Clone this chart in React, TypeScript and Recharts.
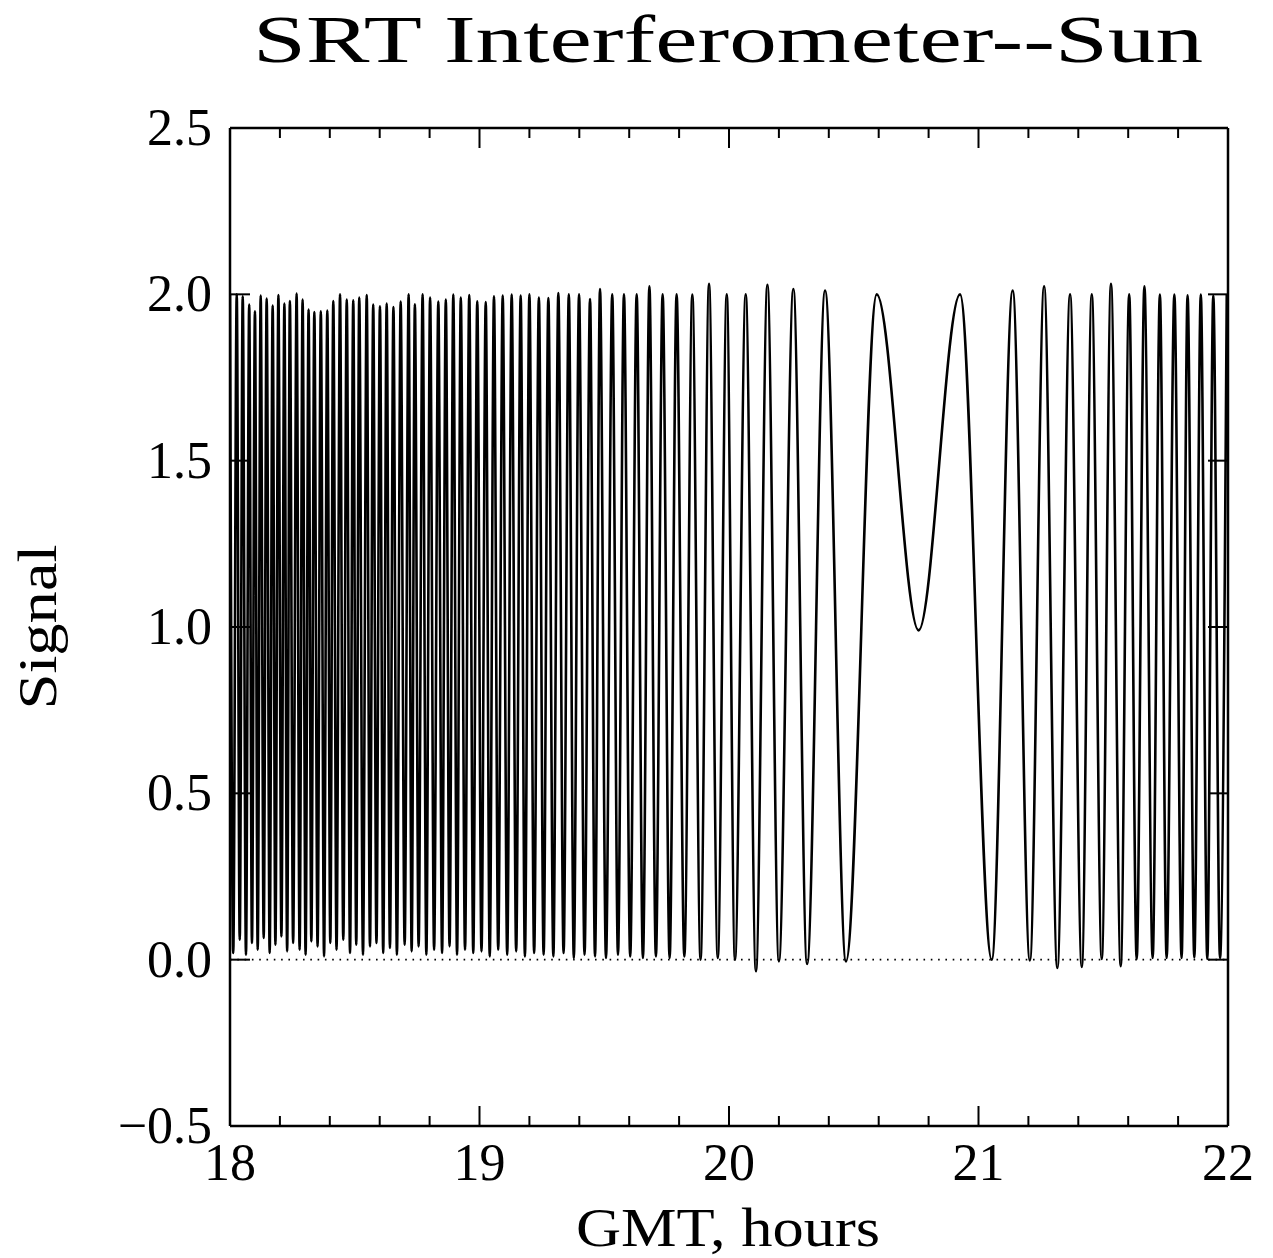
import React from "react";
import { LineChart, Line, XAxis, YAxis, ReferenceLine } from "recharts";

// fringe maxima (GMT hours, signal)
const peakHours = [
  18.0, 18.027, 18.051, 18.077, 18.1, 18.123, 18.147, 18.171, 18.194, 18.218,
  18.24, 18.267, 18.291, 18.315, 18.338, 18.364, 18.39, 18.414, 18.441, 18.468,
  18.494, 18.518, 18.548, 18.574, 18.601, 18.628, 18.655, 18.684, 18.716, 18.741,
  18.772, 18.802, 18.835, 18.865, 18.895, 18.925, 18.959, 18.991, 19.025, 19.058,
  19.093, 19.129, 19.165, 19.2, 19.238, 19.276, 19.316, 19.358, 19.399, 19.443,
  19.483, 19.532, 19.579, 19.63, 19.681, 19.734, 19.79, 19.853, 19.92, 19.991,
  20.067, 20.154, 20.258, 20.385, 20.592, 20.926, 21.137, 21.263, 21.367, 21.454,
  21.531, 21.604, 21.665, 21.727, 21.785, 21.838, 21.891, 21.941, 21.995,
];
const peakSignal = [
  2.0, 2.0, 1.994, 1.969, 1.949, 1.996, 1.987, 1.966, 1.998, 1.972,
  1.98, 2.002, 1.984, 1.954, 1.947, 1.949, 1.951, 1.98, 2.0, 1.984,
  1.982, 1.99, 1.998, 1.969, 1.964, 1.972, 1.962, 1.978, 2.0, 1.97,
  2.0, 1.99, 1.978, 1.984, 1.999, 1.99, 1.998, 1.979, 1.977, 1.994,
  1.996, 1.999, 1.996, 2.0, 1.99, 1.989, 2.004, 2.0, 2.0, 1.986,
  2.016, 2.0, 2.0, 2.0, 2.024, 2.0, 2.0, 1.999, 2.032, 2.0,
  2.0, 2.029, 2.016, 2.011, 2.0, 2.0, 2.011, 2.024, 2.0, 2.0,
  2.032, 2.0, 2.024, 1.999, 1.999, 1.997, 1.999, 1.996, 2.0,
];

// fringe minima
const troughHours = [
  18.013, 18.039, 18.064, 18.088, 18.111, 18.135, 18.159, 18.182, 18.206, 18.229,
  18.253, 18.279, 18.303, 18.326, 18.351, 18.377, 18.402, 18.427, 18.454, 18.481,
  18.506, 18.533, 18.561, 18.587, 18.614, 18.641, 18.669, 18.7, 18.728, 18.756,
  18.787, 18.818, 18.85, 18.88, 18.91, 18.942, 18.975, 19.008, 19.041, 19.075,
  19.111, 19.147, 19.182, 19.219, 19.257, 19.296, 19.337, 19.378, 19.421, 19.463,
  19.507, 19.555, 19.604, 19.655, 19.707, 19.762, 19.821, 19.886, 19.955, 20.024,
  20.108, 20.2, 20.313, 20.469, 20.76, 21.053, 21.206, 21.316, 21.414, 21.494,
  21.57, 21.634, 21.698, 21.754, 21.814, 21.865, 21.917, 21.968,
];
const troughSignal = [
  0.02, 0.06, 0.015, 0.05, 0.03, 0.065, 0.02, 0.045, 0.07, 0.025,
  0.05, 0.03, 0.015, 0.055, 0.04, 0.01, 0.05, 0.03, 0.06, 0.02,
  0.045, 0.015, 0.04, 0.05, 0.02, 0.035, 0.015, 0.045, 0.025, 0.04,
  0.015, 0.03, 0.02, 0.04, 0.015, 0.03, 0.02, 0.025, 0.01, 0.03,
  0.015, 0.025, 0.01, 0.02, 0.015, 0.01, 0.02, 0.005, 0.015, 0.01,
  0.005, 0.015, 0.01, 0.005, 0.01, 0.005, 0.01, 0.0, 0.005, 0.0,
  -0.035, -0.005, -0.013, -0.005, 0.99, 0.0, -0.002, -0.025, -0.022, 0.002,
  -0.02, 0.002, 0.005, 0.005, 0.005, 0.007, 0.002, 0.005,
];

const xTicks = [
  18, 18.2, 18.4, 18.6, 18.8, 19, 19.2, 19.4, 19.6, 19.8, 20,
  20.2, 20.4, 20.6, 20.8, 21, 21.2, 21.4, 21.6, 21.8, 22,
];
const yTicks = [-0.5, 0, 0.5, 1, 1.5, 2, 2.5];

const data = [
  ...peakHours.map((t, i) => ({ t, s: peakSignal[i] })),
  ...troughHours.map((t, i) => ({ t, s: troughSignal[i] })),
].sort((a, b) => a.t - b.t);

const FONT = "'Liberation Serif', 'DejaVu Serif', serif";
const MAJOR = 20;
const MINOR = 10;

const isXMajor = (v: number) => Math.abs(v - Math.round(v)) < 1e-6;

function BottomTick({ x, y, payload }: any) {
  const major = isXMajor(payload.value);
  return (
    <g>
      <line x1={x} y1={y} x2={x} y2={y - (major ? MAJOR : MINOR)} stroke="#000" strokeWidth={2} />
      {major && (
        <text x={x} y={y + 54} textAnchor="middle" fontFamily={FONT} fontSize={52} fill="#000">
          {payload.value}
        </text>
      )}
    </g>
  );
}

function TopTick({ x, y, payload }: any) {
  const major = isXMajor(payload.value);
  return <line x1={x} y1={y} x2={x} y2={y + (major ? MAJOR : MINOR)} stroke="#000" strokeWidth={2} />;
}

function LeftTick({ x, y, payload }: any) {
  const v = payload.value;
  const label = v < 0 ? "\u2212" + Math.abs(v).toFixed(1) : v.toFixed(1);
  return (
    <g>
      <line x1={x} y1={y} x2={x + MAJOR} y2={y} stroke="#000" strokeWidth={2} />
      <text x={x - 18} y={y + 17} textAnchor="end" fontFamily={FONT} fontSize={52} fill="#000">
        {label}
      </text>
    </g>
  );
}

function RightTick({ x, y }: any) {
  return <line x1={x} y1={y} x2={x - MAJOR} y2={y} stroke="#000" strokeWidth={2} />;
}

export default function App() {
  const axisLine = { stroke: "#000", strokeWidth: 2.5 };
  return (
    <div style={{ position: "relative", width: 1257, height: 1250 }}>
      <LineChart width={1257} height={1250} data={data} margin={{ top: 0, right: 0, bottom: 0, left: 0 }}>
        <XAxis
          xAxisId="bottom"
          dataKey="t"
          type="number"
          domain={[18, 22]}
          ticks={xTicks}
          interval={0}
          allowDataOverflow
          height={132}
          tickSize={0}
          tickMargin={0}
          tickLine={false}
          axisLine={axisLine}
          tick={<BottomTick />}
        />
        <XAxis
          xAxisId="top"
          orientation="top"
          dataKey="t"
          type="number"
          domain={[18, 22]}
          ticks={xTicks}
          interval={0}
          allowDataOverflow
          height={120}
          tickSize={0}
          tickMargin={0}
          tickLine={false}
          axisLine={axisLine}
          tick={<TopTick />}
        />
        <YAxis
          yAxisId="left"
          type="number"
          domain={[-0.5, 2.5]}
          ticks={yTicks}
          interval={0}
          allowDataOverflow
          width={222}
          tickSize={0}
          tickMargin={0}
          tickLine={false}
          axisLine={axisLine}
          tick={<LeftTick />}
        />
        <YAxis
          yAxisId="right"
          orientation="right"
          type="number"
          domain={[-0.5, 2.5]}
          ticks={yTicks}
          interval={0}
          allowDataOverflow
          width={37}
          tickSize={0}
          tickMargin={0}
          tickLine={false}
          axisLine={axisLine}
          tick={<RightTick />}
        />
        <ReferenceLine
          xAxisId="bottom"
          yAxisId="left"
          y={0}
          stroke="#000"
          strokeWidth={1.6}
          strokeDasharray="1.6 5.7"
        />
        <Line
          xAxisId="bottom"
          yAxisId="left"
          type="monotone"
          dataKey="s"
          stroke="#000"
          strokeWidth={2.6}
          dot={false}
          isAnimationActive={false}
        />
      </LineChart>
      <svg
        width={1257}
        height={1250}
        style={{ position: "absolute", left: 0, top: 0, pointerEvents: "none" }}
      >
        <text
          x={720}
          y={54}
          textAnchor="middle"
          fontFamily={FONT}
          fontSize={68}
          textLength={950}
          lengthAdjust="spacingAndGlyphs"
          fill="#000"
        >
          SRT Interferometer--Sun
        </text>
        <text
          x={720}
          y={1238}
          textAnchor="middle"
          fontFamily={FONT}
          fontSize={54}
          textLength={304}
          lengthAdjust="spacingAndGlyphs"
          fill="#000"
        >
          GMT, hours
        </text>
        <text
          x={48}
          y={619}
          textAnchor="middle"
          fontFamily={FONT}
          fontSize={54}
          textLength={165}
          lengthAdjust="spacingAndGlyphs"
          transform="rotate(-90 48 619)"
          fill="#000"
        >
          Signal
        </text>
      </svg>
    </div>
  );
}
